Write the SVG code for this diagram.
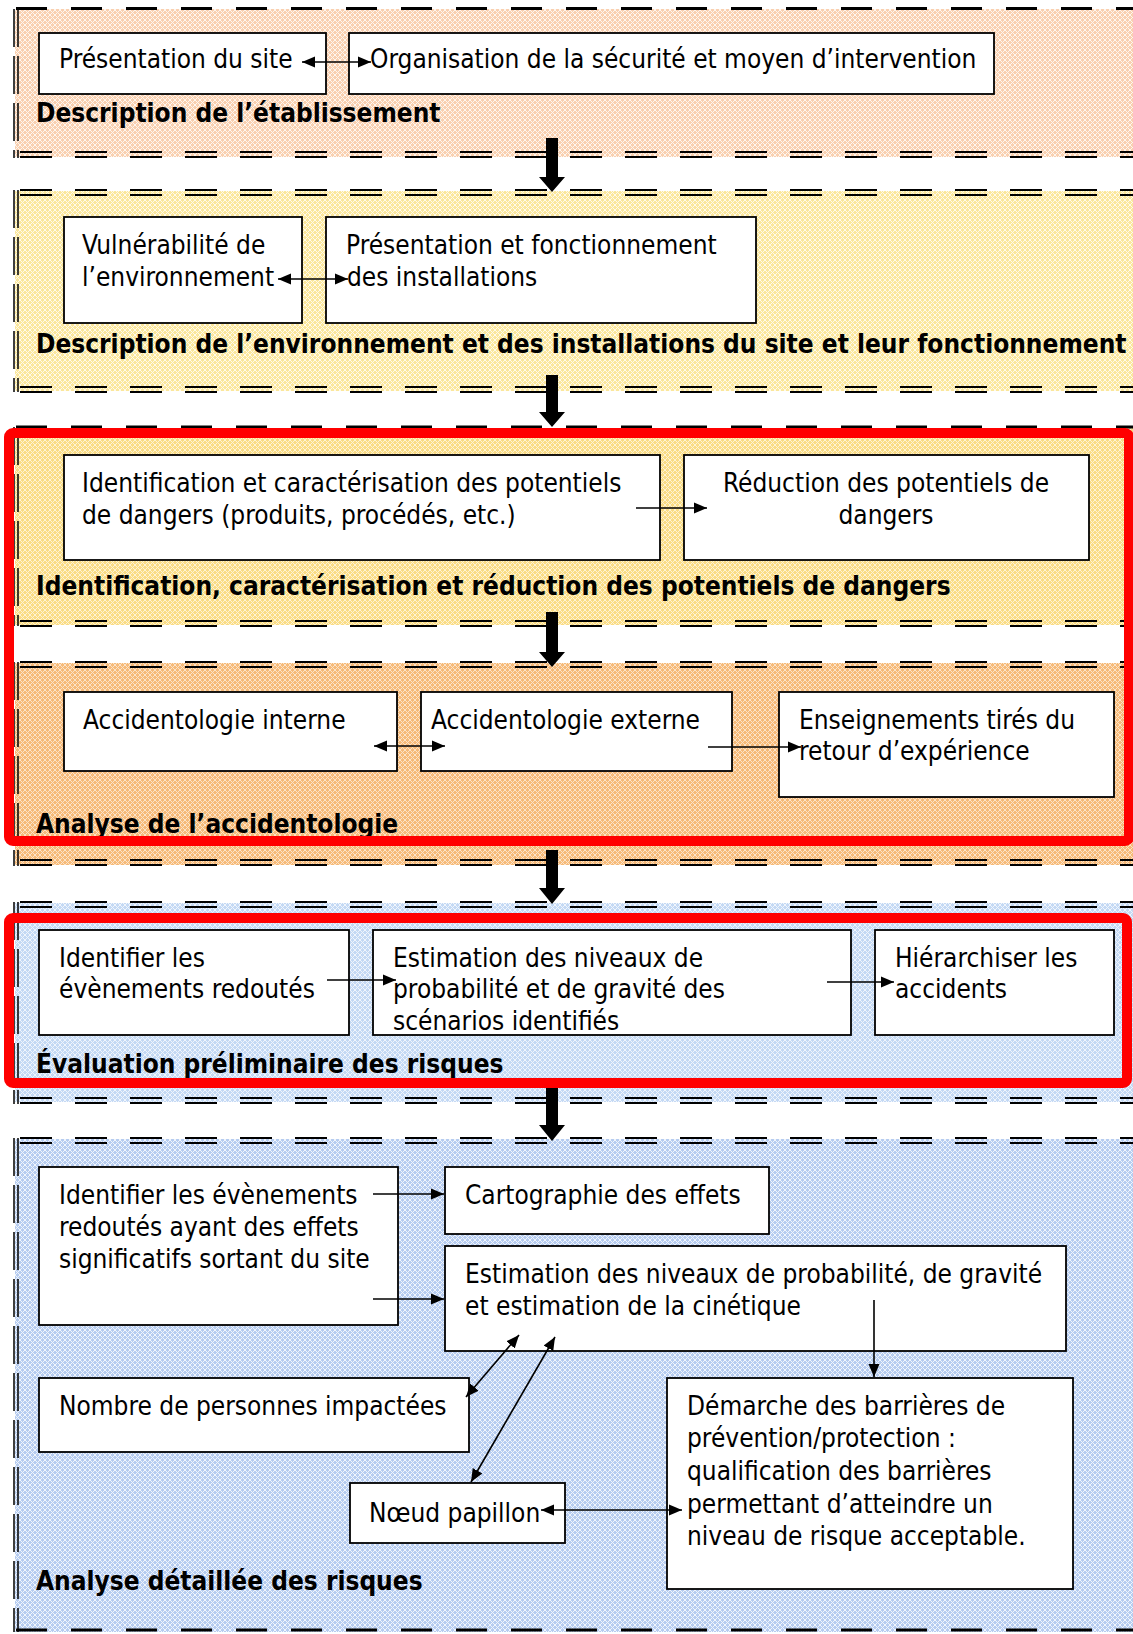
<svg xmlns="http://www.w3.org/2000/svg" width="1133" height="1634" viewBox="0 0 1133 1634">
  <defs>
    <!-- fine crosshatch fills for the section bands -->
    <pattern id="p1" width="5" height="5" patternUnits="userSpaceOnUse">
      <rect width="5" height="5" fill="#F9D0B0"/>
      <path d="M0 0L5 5M5 0L0 5" stroke="#FFFFFF" stroke-width="1" opacity="0.8"/>
    </pattern>
    <pattern id="p2" width="5" height="5" patternUnits="userSpaceOnUse">
      <rect width="5" height="5" fill="#FBE79C"/>
      <path d="M0 0L5 5M5 0L0 5" stroke="#FFFFFF" stroke-width="1" opacity="0.8"/>
    </pattern>
    <pattern id="p3" width="5" height="5" patternUnits="userSpaceOnUse">
      <rect width="5" height="5" fill="#FADC84"/>
      <path d="M0 0L5 5M5 0L0 5" stroke="#FFFFFF" stroke-width="1" opacity="0.65"/>
    </pattern>
    <pattern id="p4" width="5" height="5" patternUnits="userSpaceOnUse">
      <rect width="5" height="5" fill="#F6BA78"/>
      <path d="M0 0L5 5M5 0L0 5" stroke="#FFFFFF" stroke-width="1" opacity="0.6"/>
    </pattern>
    <pattern id="p5" width="5" height="5" patternUnits="userSpaceOnUse">
      <rect width="5" height="5" fill="#C4D9F4"/>
      <path d="M0 0L5 5M5 0L0 5" stroke="#FFFFFF" stroke-width="1" opacity="0.75"/>
    </pattern>
    <pattern id="p6" width="5" height="5" patternUnits="userSpaceOnUse">
      <rect width="5" height="5" fill="#B6CCF0"/>
      <path d="M0 0L5 5M5 0L0 5" stroke="#FFFFFF" stroke-width="1" opacity="0.8"/>
    </pattern>
    <marker id="ah" markerUnits="userSpaceOnUse" markerWidth="14" markerHeight="12" refX="13" refY="6" orient="auto-start-reverse">
      <path d="M0 0.5L13 6L0 11.5Z" fill="#000"/>
    </marker>
  </defs>
  <style>
    .dT { fill: none; stroke: #000; stroke-width: 3; stroke-dasharray: 31 24; }
    .dD { fill: none; stroke: #000; stroke-width: 2; stroke-dasharray: 32 23; }
    .lv { fill: none; stroke: #000; stroke-width: 1.5; stroke-dasharray: 38 9; }
    .box { fill: #FFFFFF; stroke: #000; stroke-width: 1.8; }
    .t { font-family: "DejaVu Sans Condensed", "DejaVu Sans", sans-serif; font-stretch: condensed; font-size: 26px; fill: #000; }
    .tb { font-family: "DejaVu Sans Condensed", "DejaVu Sans", sans-serif; font-stretch: condensed; font-size: 26px; font-weight: bold; fill: #000; }
    .c { text-anchor: middle; }
    .ln { fill: none; stroke: #000; stroke-width: 1.6; }
    .big { fill: #000; }
    .red { fill: none; stroke: #FF0000; stroke-width: 10; }
  </style>

  <rect width="1133" height="1634" fill="#FFFFFF"/>

  <!-- section bands -->
  <g id="sec-etablissement">
    <rect x="15" y="9" width="1118" height="148" fill="url(#p1)"/>
    <line class="dT" x1="16" y1="8.5" x2="1133" y2="8.5"/>
    <path class="dD" d="M20 152H1133M20 157H1133"/>
    <path class="lv" d="M14 9V158M18 9V158"/>
    <text class="tb" x="36" y="122">Description de l’établissement</text>
  </g>
  <g id="sec-environnement">
    <rect x="15" y="191" width="1118" height="200" fill="url(#p2)"/>
    <path class="dD" d="M20 190H1133M20 195H1133M20 387H1133M20 392H1133"/>
    <path class="lv" d="M14 190V392M18 190V392"/>
    <text class="tb" x="36" y="353">Description de l’environnement et des installations du site et leur fonctionnement</text>
  </g>
  <g id="sec-potentiels">
    <rect x="15" y="428" width="1118" height="197" fill="url(#p3)"/>
    <line class="dT" x1="16" y1="427" x2="1133" y2="427"/>
    <path class="dD" d="M20 621H1133M20 626H1133"/>
    <path class="lv" d="M14 427V626M18 427V626"/>
    <text class="tb" x="36" y="595">Identification, caractérisation et réduction des potentiels de dangers</text>
  </g>
  <g id="sec-accidentologie">
    <rect x="15" y="663" width="1118" height="202" fill="url(#p4)"/>
    <path class="dD" d="M20 662H1133M20 667H1133M20 860H1133M20 865H1133"/>
    <path class="lv" d="M14 662V866M18 662V866"/>
    <text class="tb" x="36" y="833">Analyse de l’accidentologie</text>
  </g>
  <g id="sec-evaluation">
    <rect x="15" y="903" width="1118" height="199" fill="url(#p5)"/>
    <path class="dD" d="M20 902H1133M20 907H1133M20 1098H1133M20 1103H1133"/>
    <path class="lv" d="M14 902V1104M18 902V1104"/>
    <text class="tb" x="36" y="1073">Évaluation préliminaire des risques</text>
  </g>
  <g id="sec-analyse">
    <rect x="15" y="1139" width="1118" height="493" fill="url(#p6)"/>
    <path class="dD" d="M20 1138H1133M20 1143H1133"/>
    <line class="dT" x1="16" y1="1630" x2="1133" y2="1630"/>
    <path class="lv" d="M14 1138V1632M18 1138V1632"/>
    <text class="tb" x="36" y="1590">Analyse détaillée des risques</text>
  </g>

  <!-- process boxes -->
  <g id="n-presentation-site">
    <rect class="box" x="39" y="33" width="287" height="61"/>
    <text class="t" x="59" y="68">Présentation du site</text>
  </g>
  <g id="n-organisation">
    <rect class="box" x="349" y="33" width="645" height="61"/>
    <text class="t" x="370" y="68">Organisation de la sécurité et moyen d’intervention</text>
  </g>
  <g id="n-vulnerabilite">
    <rect class="box" x="64" y="217" width="238" height="106"/>
    <text class="t" x="82" y="254">Vulnérabilité de</text>
    <text class="t" x="82" y="286">l’environnement</text>
  </g>
  <g id="n-installations">
    <rect class="box" x="326" y="217" width="430" height="106"/>
    <text class="t" x="346" y="254">Présentation et fonctionnement</text>
    <text class="t" x="347" y="286">des installations</text>
  </g>
  <g id="n-identification">
    <rect class="box" x="64" y="455" width="596" height="105"/>
    <text class="t" x="82" y="492">Identification et caractérisation des potentiels</text>
    <text class="t" x="82" y="524">de dangers (produits, procédés, etc.)</text>
  </g>
  <g id="n-reduction">
    <rect class="box" x="684" y="455" width="405" height="105"/>
    <text class="t c" x="886" y="492">Réduction des potentiels de</text>
    <text class="t c" x="886" y="524">dangers</text>
  </g>
  <g id="n-acc-interne">
    <rect class="box" x="64" y="692" width="333" height="79"/>
    <text class="t" x="83" y="729">Accidentologie interne</text>
  </g>
  <g id="n-acc-externe">
    <rect class="box" x="421" y="692" width="311" height="79"/>
    <text class="t" x="431" y="729">Accidentologie externe</text>
  </g>
  <g id="n-enseignements">
    <rect class="box" x="779" y="692" width="335" height="105"/>
    <text class="t" x="799" y="729">Enseignements tirés du</text>
    <text class="t" x="799" y="760">retour d’expérience</text>
  </g>
  <g id="n-evenements">
    <rect class="box" x="39" y="930" width="310" height="105"/>
    <text class="t" x="59" y="967">Identifier les</text>
    <text class="t" x="59" y="998">évènements redoutés</text>
  </g>
  <g id="n-estimation-niveaux">
    <rect class="box" x="373" y="930" width="478" height="105"/>
    <text class="t" x="393" y="967">Estimation des niveaux de</text>
    <text class="t" x="393" y="998">probabilité et de gravité des</text>
    <text class="t" x="393" y="1030">scénarios identifiés</text>
  </g>
  <g id="n-hierarchiser">
    <rect class="box" x="875" y="930" width="239" height="105"/>
    <text class="t" x="895" y="967">Hiérarchiser les</text>
    <text class="t" x="895" y="998">accidents</text>
  </g>
  <g id="n-evenements-effets">
    <rect class="box" x="39" y="1167" width="359" height="158"/>
    <text class="t" x="59" y="1204">Identifier les évènements</text>
    <text class="t" x="59" y="1236">redoutés ayant des effets</text>
    <text class="t" x="59" y="1268">significatifs sortant du site</text>
  </g>
  <g id="n-cartographie">
    <rect class="box" x="445" y="1167" width="324" height="67"/>
    <text class="t" x="465" y="1204">Cartographie des effets</text>
  </g>
  <g id="n-estimation-cinetique">
    <rect class="box" x="445" y="1246" width="621" height="105"/>
    <text class="t" x="465" y="1283">Estimation des niveaux de probabilité, de gravité</text>
    <text class="t" x="465" y="1315">et estimation de la cinétique</text>
  </g>
  <g id="n-personnes">
    <rect class="box" x="39" y="1378" width="430" height="74"/>
    <text class="t" x="59" y="1415">Nombre de personnes impactées</text>
  </g>
  <g id="n-barrieres">
    <rect class="box" x="667" y="1378" width="406" height="211"/>
    <text class="t" x="687" y="1415">Démarche des barrières de</text>
    <text class="t" x="687" y="1447">prévention/protection :</text>
    <text class="t" x="687" y="1480">qualification des barrières</text>
    <text class="t" x="687" y="1513">permettant d’atteindre un</text>
    <text class="t" x="687" y="1545">niveau de risque acceptable.</text>
  </g>
  <g id="n-papillon">
    <rect class="box" x="350" y="1483" width="215" height="60"/>
    <text class="t" x="369" y="1522">Nœud papillon</text>
  </g>

  <!-- connectors -->
  <g id="connectors">
    <line class="ln" x1="302" y1="62" x2="371" y2="62" marker-start="url(#ah)" marker-end="url(#ah)"/>
    <line class="ln" x1="278" y1="279" x2="348" y2="279" marker-start="url(#ah)" marker-end="url(#ah)"/>
    <line class="ln" x1="636" y1="508" x2="707" y2="508" marker-end="url(#ah)"/>
    <line class="ln" x1="374" y1="746" x2="445" y2="746" marker-start="url(#ah)" marker-end="url(#ah)"/>
    <line class="ln" x1="708" y1="747" x2="801" y2="747" marker-end="url(#ah)"/>
    <line class="ln" x1="327" y1="980" x2="396" y2="980" marker-end="url(#ah)"/>
    <line class="ln" x1="827" y1="982" x2="894" y2="982" marker-end="url(#ah)"/>
    <line class="ln" x1="373" y1="1194" x2="444" y2="1194" marker-end="url(#ah)"/>
    <line class="ln" x1="373" y1="1299" x2="444" y2="1299" marker-end="url(#ah)"/>
    <line class="ln" x1="874" y1="1300" x2="874" y2="1377" marker-end="url(#ah)"/>
    <line class="ln" x1="519" y1="1335" x2="466" y2="1397" marker-start="url(#ah)" marker-end="url(#ah)"/>
    <line class="ln" x1="555" y1="1337" x2="471" y2="1482" marker-start="url(#ah)" marker-end="url(#ah)"/>
    <line class="ln" x1="541" y1="1510" x2="682" y2="1510" marker-start="url(#ah)" marker-end="url(#ah)"/>
    <!-- heavy flow arrows between bands -->
    <path class="big" d="M546 138H558V177H565L552 192L539 177H546Z"/>
    <path class="big" d="M546 375H558V412H565L552 427L539 412H546Z"/>
    <path class="big" d="M546 612H558V652H565L552 667L539 652H546Z"/>
    <path class="big" d="M546 850H558V888H565L552 904L539 888H546Z"/>
    <path class="big" d="M546 1088H558V1125H565L552 1141L539 1125H546Z"/>
  </g>

  <!-- highlight frames -->
  <g id="highlights">
    <rect class="red" x="9" y="433" width="1120" height="408" rx="4"/>
    <rect class="red" x="9" y="918" width="1118" height="165" rx="4"/>
  </g>
</svg>
